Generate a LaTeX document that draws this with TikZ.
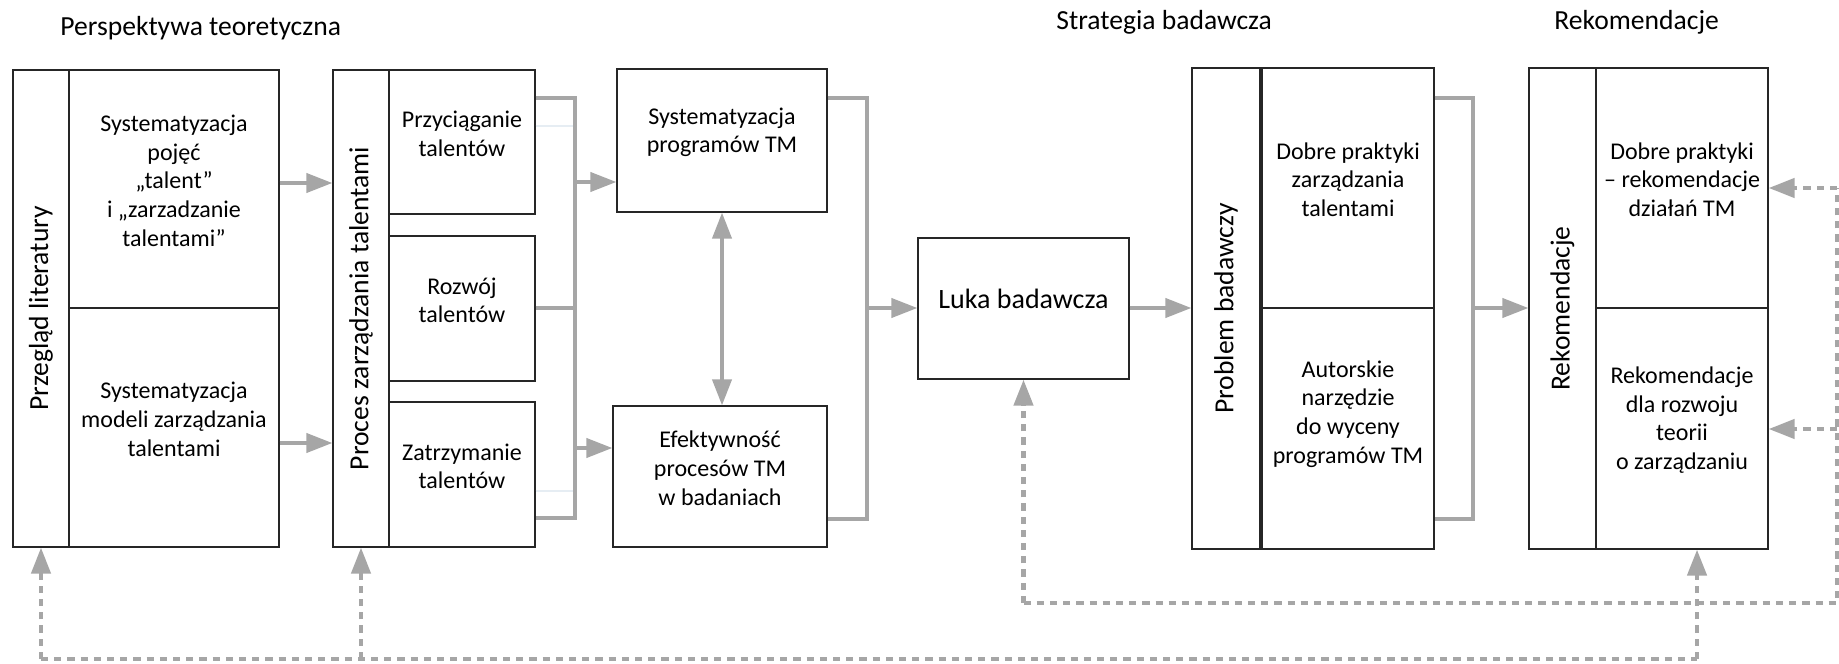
\documentclass[tikz,border=0pt]{standalone}
\usepackage{fontspec}
\setmainfont{Carlito}
\usetikzlibrary{arrows.meta,fit,calc}
\definecolor{flow}{HTML}{A6A6A6}
\definecolor{faint}{HTML}{E6EDF3}
\tikzset{
  box/.style={draw=black!85, line width=0.6pt, inner sep=0pt},
  lbl/.style={align=center, font=\fontsize{12}{14.3}\selectfont, inner sep=0pt},
  vlbl/.style={align=center, font=\fontsize{13.8}{16}\selectfont, inner sep=0pt, rotate=90},
  title/.style={font=\fontsize{13.8}{16}\selectfont, anchor=west, inner sep=0pt},
  tip/.tip={Triangle[length=13pt,width=9.5pt]},
  flowline/.style={draw=flow, line width=2pt},
  flowarrow/.style={flowline, -tip},
  feedback/.style={draw=flow, line width=2.2pt, dash pattern=on 3.6pt off 3pt},
  feedarrow/.style={feedback, -tip},
}
\begin{document}
\begin{tikzpicture}[x=0.5pt, y=-0.5pt]
\useasboundingbox (0,0) rectangle (1839,663);

% section titles
\node[title] (tpersp) at (60,28) {Perspektywa teoretyczna};
\node[title] (tstrat) at (1056,22) {Strategia badawcza};
\node[title] (trek)   at (1554,22) {Rekomendacje};

% literature review block
\node[box, fit={(13,70) (69,547)}] (litcol) {};
\node[vlbl] (littxt) at (litcol.center) {Przegląd literatury};
\node[box, lbl, fit={(69,70) (279,308)}] (littop) {Systematyzacja\\pojęć\\„talent”\\i „zarzadzanie\\talentami”};
\node[box, lbl, fit={(69,308) (279,547)}] (litbot) {Systematyzacja\\modeli zarządzania\\talentami};

% talent management process block
\node[box, fit={(333,70) (389,547)}] (proccol) {};
\node[vlbl] (proctxt) at (proccol.center) {Proces zarządzania talentami};
\node[box, lbl, fit={(389,70) (535,214)}] (attr) {Przyciąganie\\talentów};
\node[box, lbl, fit={(389,236) (535,381)}] (dev) {Rozwój\\talentów};
\node[box, lbl, fit={(389,402) (535,547)}] (ret) {Zatrzymanie\\talentów};

% programmes and effectiveness
\node[box, lbl, fit={(617,69) (827,212)}] (sysprog) {Systematyzacja\\programów TM};
\node[box, lbl, fit={(613,406) (827,547)}] (eff) {Efektywność\\procesów TM\\w badaniach};

% research gap
\node[box, fit={(918,238) (1129,379)}, font=\fontsize{14}{16}\selectfont] (luka) {Luka badawcza};

% research problem block
\node[box, fit={(1192,68) (1260,549)}] (probcol) {};
\node[vlbl] (probtxt) at (probcol.center) {Problem badawczy};
\node[box, lbl, fit={(1262,68) (1434,308)}] (dobre) {Dobre praktyki\\zarządzania\\talentami};
\node[box, fit={(1262,308) (1434,549)}] (autor) {};
\node[lbl] (autortxt) at (1348,414) {Autorskie\\narzędzie\\do wyceny\\programów TM};

% recommendations block
\node[box, fit={(1529,68) (1596,549)}] (rekcol) {};
\node[vlbl] (rektxt) at (rekcol.center) {Rekomendacje};
\node[box, lbl, fit={(1596,68) (1768,308)}] (rektop) {Dobre praktyki\\– rekomendacje\\działań TM};
\node[box, lbl, fit={(1596,308) (1768,549)}] (rekbot) {Rekomendacje\\dla rozwoju\\teorii\\o zarządzaniu};

% literature -> process
\draw[flowarrow] (littop.east |- 0,183) -- (proccol.west |- 0,183);
\draw[flowarrow] (litbot.east |- 0,443) -- (proccol.west |- 0,443);

% process bracket
\coordinate (br1top) at (575,98);
\coordinate (br1bot) at (575,518);
\draw[faint, line width=0.6pt] (attr.east |- 0,126) -- (br1top |- 0,126);
\draw[faint, line width=0.6pt] (ret.east |- 0,491) -- (br1top |- 0,491);
\draw[flowline] (attr.east |- br1top) -- (br1top) -- (br1bot) -- (ret.east |- br1bot);
\draw[flowline] (dev.east |- 0,308) -- (br1top |- 0,308);
\draw[flowarrow] (br1top |- 0,182) -- (sysprog.west |- 0,182);
\draw[flowarrow] (br1top |- 0,448) -- (eff.west |- 0,448);

% programmes <-> effectiveness
\draw[flowline, tip-tip] (sysprog.south) -- (sysprog.south |- eff.north);

% bracket into the research gap
\coordinate (br2top) at (867,98);
\coordinate (br2bot) at (867,519);
\draw[flowline] (sysprog.east |- br2top) -- (br2top) -- (br2bot) -- (eff.east |- br2bot);
\draw[flowarrow] (br2top |- 0,308) -- (luka.west |- 0,308);

% gap -> problem
\draw[flowarrow] (luka.east |- 0,308) -- (probcol.west |- 0,308);

% bracket into recommendations
\coordinate (br3top) at (1473,98);
\coordinate (br3bot) at (1473,519);
\draw[flowline] (dobre.east |- br3top) -- (br3top) -- (br3bot) -- (autor.east |- br3bot);
\draw[flowarrow] (br3top |- 0,308) -- (rekcol.west |- 0,308);

% feedback loop to the gap and to recommendations
\coordinate (fbR) at (1837,603);
\coordinate (fbRtop) at (1837,188);
\coordinate (fbRmid) at (1837,429);
\draw[feedback] (luka.south |- fbR) -- (fbR) -- (fbRtop);
\draw[feedarrow] (luka.south |- fbR) -- (luka.south);
\draw[feedarrow] (fbRtop) -- (rektop.east |- fbRtop);
\draw[feedarrow] (fbRmid) -- (rekbot.east |- fbRmid);

% feedback loop to literature and process
\coordinate (fbB) at (1697,659);
\draw[feedback] (litcol.south |- fbB) -- (fbB);
\draw[feedarrow] (litcol.south |- fbB) -- (litcol.south);
\draw[feedarrow] (proccol.south |- fbB) -- (proccol.south);
\draw[feedarrow] (fbB) -- (fbB |- rekbot.south);
\end{tikzpicture}
\end{document}
